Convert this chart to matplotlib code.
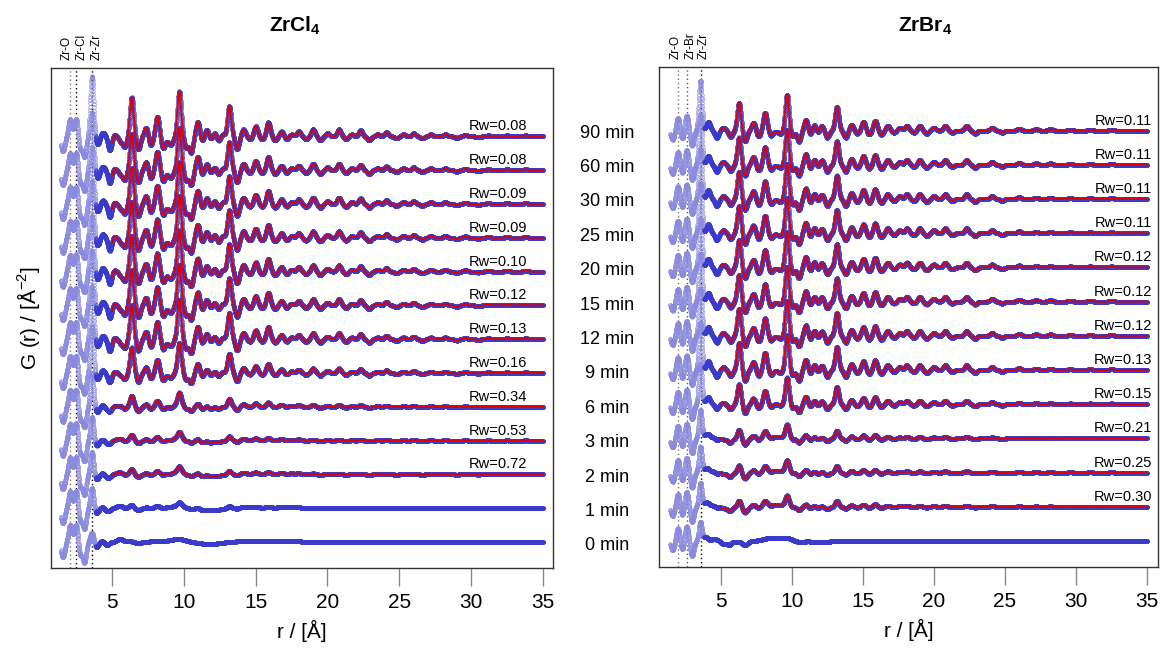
import numpy as np
import matplotlib
matplotlib.use('Agg')
import matplotlib.pyplot as plt
from matplotlib.transforms import blended_transform_factory

plt.rcParams['font.family'] = ['Liberation Sans', 'DejaVu Sans']
plt.rcParams['mathtext.fontset'] = 'custom'
plt.rcParams['mathtext.rm'] = 'Liberation Sans'
plt.rcParams['mathtext.bf'] = 'Liberation Sans:bold'

# ---------------- data ----------------
times = ["0 min", "1 min", "2 min", "3 min", "6 min", "9 min", "12 min",
         "15 min", "20 min", "25 min", "30 min", "60 min", "90 min"]

rw_cl = [None, None, "0.72", "0.53", "0.34", "0.16", "0.13", "0.12",
         "0.10", "0.09", "0.09", "0.08", "0.08"]
rw_br = [None, "0.30", "0.25", "0.21", "0.15", "0.13", "0.12", "0.12",
         "0.12", "0.11", "0.11", "0.11", "0.11"]

# ZrCl4: low-r features common to all curves (r [A], height)
cl_low_r = [1.58, 2.08, 2.50, 2.78, 3.08]
cl_low_h = [-15, 17, 18, -13, -20]
cl_zrzr_r = 3.60
cl_zrzr_h = [10, 21, 23, 24, 34, 47, 53, 55, 56, 57, 57, 58, 60]
# ZrCl4 crystalline pattern (90 min)
cl_cry_r = [4.0, 4.35, 4.85, 5.12, 5.6, 5.88, 6.37, 6.83, 7.37, 7.69, 8.15,
            8.56, 8.9, 9.12, 9.68, 10.15, 10.5, 10.97, 11.25, 11.6, 11.85,
            12.17, 12.4, 12.7, 13.16, 13.7, 14.15, 14.6, 15.0, 15.45, 15.88,
            16.35, 16.8, 17.15, 17.5, 18.0, 18.5, 19.0, 19.5, 20.0, 20.8,
            21.3, 21.7, 22.3, 22.9, 23.5, 24.1, 24.8, 25.3, 26.0, 26.6,
            27.2, 28.2, 29.0, 29.6, 30.5, 31.2, 32.5, 33.8]
cl_cry_h = [-8, 4, -14, 2, -5, -10, 39, -13, 9, -9, 20,
            -12, -4, -7, 45, -11, -16, 15, -5, 7, -3,
            4, -5, 2, 30, -13, 7, -3, 10, -3, 14,
            -4, 5, -3, 2, 5, -3, 7, -4, 3, 7,
            -3, 2, 6, -4, 2, 4, -2, 2, 3, -2,
            2, 2, -1.5, 1.5, -1, 1, 1, 1]
# ZrCl4 precursor pattern (0 min)
cl_amo_r = [3.9, 4.3, 4.65, 5.55, 6.2, 6.8, 8.2, 9.6, 11.8, 14.5, 17.0]
cl_amo_h = [-5, 1, -3, 3, 1, -1, 1, 3, -2, 1, 1]
cl_amo_s = [0.15, 0.15, 0.15, 0.2, 0.25, 0.25, 0.5, 0.5, 0.7, 0.8, 1.0]
cl_cryst = [0, 0.07, 0.12, 0.14, 0.27, 0.65, 0.87, 0.90, 0.91, 0.92, 0.92, 0.93, 1.0]

# ZrBr4
br_low_r = [1.62, 2.0, 2.3, 2.6, 2.98]
br_low_h = [-9, 13, -9, 15, -15]
br_zrzr_r = 3.57
br_zrzr_h = [19, 24, 26, 28, 40, 47, 47, 48, 49, 50, 50, 50, 50]
br_cry_r = [4.13, 4.72, 5.18, 5.7, 6.29, 6.71, 7.3, 7.67, 8.12, 8.55, 8.9,
            9.2, 9.67, 10.05, 10.5, 10.99, 11.3, 11.6, 11.85, 12.1, 12.5,
            13.17, 13.8, 14.2, 14.6, 15.04, 15.45, 15.87, 16.3, 16.75, 17.2,
            17.6, 18.1, 18.6, 19.0, 19.5, 20.0, 20.8, 21.3, 22.3, 22.9,
            24.1, 24.8, 26.0, 27.2, 28.2, 29.6, 31.0, 32.5]
br_cry_h = [9, -7, 3, -6, 28, -11, 8, -6, 18, -5, -1,
            -3, 36, -6, -11, 11, -4, 6, -3, 5, -7,
            24, -7, 6, -3, 9, -4, 10, -4, 5, -2,
            3, 5, -2, 5, -3, 3, 5, -2, 5, -3,
            3, -2, 2, 1.5, 1.5, 1, 1, 1]
br_amo_r = [3.95, 4.55, 5.2, 5.6, 6.1, 6.7, 8.5, 9.6, 10.5, 12.0]
br_amo_h = [4, 2, -3, -4, -1, -4, 3, 3, -1, -1]
br_amo_s = [0.15, 0.2, 0.15, 0.15, 0.15, 0.2, 0.5, 0.4, 0.3, 0.6]
br_cryst = [0, 0.25, 0.28, 0.33, 0.72, 0.97, 0.97, 0.97, 0.98, 0.98, 0.98, 0.98, 1.0]

# ---------------- helpers ----------------
r = np.arange(1.45, 35.0001, 0.01)


def peaks(pos, h, sig):
    out = np.zeros_like(r)
    for p, a, s in zip(pos, h, sig):
        out += a * np.exp(-(r - p) ** 2 / (2 * s ** 2))
    return out


def build(low_r, low_h, zr_r, zr_h, cry_r, cry_h, amo_r, amo_h, amo_s, cryst):
    low = peaks(low_r, low_h, [0.12] * len(low_r))
    cry = peaks(cry_r, cry_h, [0.13] * len(cry_r))
    amo = peaks(amo_r, amo_h, amo_s)
    curves = []
    for i in range(len(cryst)):
        zr = peaks([zr_r], [zr_h[i]], [0.11])
        curves.append(low + zr + cryst[i] * cry + (1 - cryst[i]) * amo)
    return curves


fig = plt.figure(figsize=(11.66, 6.63), dpi=100)
W, H = 1166, 663
ax1 = fig.add_axes([51 / W, 1 - 568 / H, (553 - 51) / W, 500 / H])
ax2 = fig.add_axes([659 / W, 1 - 567 / H, (1158 - 659) / W, 500 / H])

panels = [
    dict(ax=ax1, step=33.8, ylim=(-26, 474), xlim=(0.75, 35.7), rwx=31.9,
         curves=build(cl_low_r, cl_low_h, cl_zrzr_r, cl_zrzr_h, cl_cry_r, cl_cry_h,
                      cl_amo_r, cl_amo_h, cl_amo_s, cl_cryst),
         rw=rw_cl,
         lines=[(2.08, '#777777'), (2.5, 'black'), (3.62, 'black')],
         labels=[(1.87, 'Zr-O'), (2.91, 'Zr-Cl'), (3.96, 'Zr-Zr')]),
    dict(ax=ax2, step=34.2, ylim=(-26, 474), xlim=(0.66, 35.77), rwx=33.3,
         curves=build(br_low_r, br_low_h, br_zrzr_r, br_zrzr_h, br_cry_r, br_cry_h,
                      br_amo_r, br_amo_h, br_amo_s, br_cryst),
         rw=rw_br,
         lines=[(2.0, '#777777'), (2.62, '#555555'), (3.58, 'black')],
         labels=[(1.85, 'Zr-O'), (2.89, 'Zr-Br'), (3.82, 'Zr-Zr')]),
]

low_mask = r < 3.85
fit_mask = r >= 5.0
for P in panels:
    ax = P['ax']
    for xv, col in P['lines']:
        ax.axvline(xv, ls=(0, (1, 2)), color=col, lw=1.0, zorder=1)
    for xv, lab in P['labels']:
        ax.text(xv, 1.016, lab, transform=blended_transform_factory(ax.transData, ax.transAxes),
                rotation=90, ha='center', va='bottom', fontsize=8.5)
    for i, g in enumerate(P['curves']):
        off = i * P['step']
        y = g + off
        ax.plot(r[low_mask], y[low_mask], ls='none', marker='o', ms=2.6, mfc='none',
                mec='#8a8ade', mew=0.5, zorder=2)
        ax.plot(r[~low_mask], y[~low_mask], ls='none', marker='o', ms=2.5, mfc='none',
                mec='#3a3acb', mew=0.6, zorder=3)
        if P['rw'][i] is not None:
            ax.plot(r[fit_mask], y[fit_mask], color='#e00000', lw=1.3, zorder=4)
            ax.text(P['rwx'], off + 10, 'Rw=' + P['rw'][i], ha='center', va='center',
                    fontsize=10.5, zorder=5)
    ax.set_xlim(*P['xlim'])
    ax.set_ylim(*P['ylim'])
    ax.set_yticks([])
    ax.set_xticks([5, 10, 15, 20, 25, 30, 35])
    ax.tick_params(axis='x', length=13, width=1, color='#888888', labelsize=15, pad=5)
    for s in ax.spines.values():
        s.set_color('#333333')
        s.set_linewidth(1)
    ax.set_xlabel('r / [Å]', fontsize=15, labelpad=6)

# time labels between panels
tr = blended_transform_factory(fig.transFigure, ax2.transData)
for i, t in enumerate(times):
    fig.text(607 / W, i * 34.4 - 5, t, transform=tr, ha='center', va='center', fontsize=13)

fig.text(295 / W, 1 - 26 / H, r'ZrCl$\mathbf{_4}$', ha='center', va='center',
         fontsize=15, fontweight='bold')
fig.text(925 / W, 1 - 26 / H, r'ZrBr$\mathbf{_4}$', ha='center', va='center',
         fontsize=15, fontweight='bold')
fig.text(28 / W, 1 - 318 / H, r'G (r) / [Å$^{-2}$]', rotation=90, ha='center',
         va='center', fontsize=15)

fig.savefig('out.png', dpi=100)
